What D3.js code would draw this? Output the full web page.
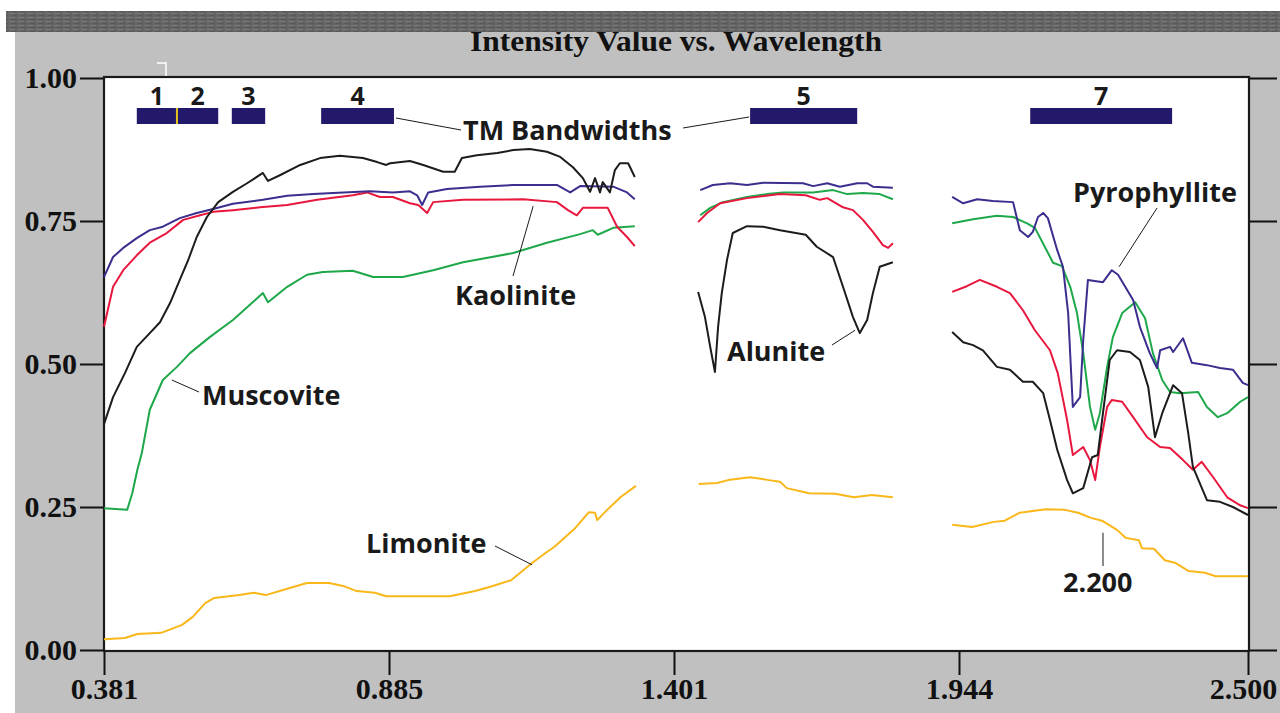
<!DOCTYPE html>
<html><head><meta charset="utf-8">
<script src="https://cdn.jsdelivr.net/npm/d3@7"></script>
<style>body{margin:0;background:#fff}svg{display:block}</style>
</head><body><svg id="c" width="1280" height="713"></svg>
<script>
// ---------- data ----------
const chartTitle = "Intensity Value vs. Wavelength";
const wavelengthTicks = [0.381, 0.885, 1.401, 1.944, 2.500];
const valueTicks = [0, 0.25, 0.50, 0.75, 1.00];

const tmBands = ["1", "2", "3", "4", "5", "7"];
const tmStart = [0.439, 0.510, 0.607, 0.765, 1.546, 2.081];
const tmEnd   = [0.510, 0.583, 0.666, 0.894, 1.750, 2.354];

const minerals = ["Kaolinite", "Alunite", "Muscovite", "Pyrophyllite", "Limonite"];

// each spectrum: three segments of [wavelength µm, intensity]
const kaolinite = [
  [[0.381,0.565],[0.397,0.635],[0.415,0.664],[0.439,0.690],[0.462,0.712],[0.492,0.729],[0.521,0.752],[0.551,0.760],[0.574,0.766],[0.609,0.769],[0.657,0.774],[0.705,0.778],[0.758,0.787],[0.821,0.795],[0.846,0.800],[0.869,0.792],[0.892,0.792],[0.923,0.781],[0.938,0.778],[0.954,0.764],[0.965,0.783],[1.019,0.787],[1.128,0.788],[1.189,0.783],[1.209,0.769],[1.225,0.760],[1.236,0.773],[1.281,0.773],[1.298,0.740],[1.316,0.722],[1.330,0.706]],
  [[1.447,0.748],[1.464,0.764],[1.489,0.781],[1.540,0.790],[1.603,0.797],[1.652,0.795],[1.679,0.787],[1.693,0.790],[1.723,0.774],[1.742,0.769],[1.761,0.752],[1.780,0.731],[1.799,0.708],[1.809,0.703],[1.818,0.711]],
  [[1.931,0.626],[1.959,0.636],[1.984,0.647],[2.017,0.635],[2.042,0.624],[2.067,0.594],[2.090,0.559],[2.119,0.524],[2.134,0.484],[2.152,0.402],[2.163,0.341],[2.183,0.355],[2.196,0.332],[2.206,0.297],[2.215,0.355],[2.229,0.425],[2.238,0.437],[2.258,0.434],[2.279,0.407],[2.306,0.372],[2.331,0.355],[2.350,0.353],[2.375,0.332],[2.394,0.315],[2.411,0.329],[2.433,0.302],[2.460,0.267],[2.485,0.253],[2.500,0.248]]
];
const alunite = [
  [[0.381,0.395],[0.397,0.442],[0.418,0.484],[0.439,0.530],[0.462,0.554],[0.480,0.573],[0.498,0.607],[0.515,0.647],[0.530,0.682],[0.545,0.722],[0.563,0.757],[0.583,0.783],[0.609,0.801],[0.634,0.816],[0.662,0.834],[0.671,0.820],[0.692,0.830],[0.728,0.848],[0.763,0.860],[0.798,0.864],[0.839,0.860],[0.864,0.853],[0.880,0.848],[0.887,0.851],[0.923,0.855],[0.947,0.848],[0.983,0.836],[1.004,0.836],[1.017,0.860],[1.044,0.865],[1.081,0.869],[1.110,0.874],[1.140,0.876],[1.171,0.871],[1.195,0.862],[1.218,0.844],[1.236,0.825],[1.249,0.801],[1.258,0.825],[1.267,0.800],[1.272,0.818],[1.285,0.800],[1.294,0.839],[1.303,0.851],[1.318,0.851],[1.330,0.827]],
  [[1.447,0.626],[1.460,0.582],[1.470,0.530],[1.479,0.486],[1.485,0.565],[1.492,0.624],[1.502,0.682],[1.513,0.729],[1.540,0.741],[1.571,0.740],[1.603,0.734],[1.652,0.726],[1.673,0.705],[1.704,0.687],[1.723,0.635],[1.742,0.582],[1.755,0.554],[1.769,0.577],[1.780,0.624],[1.793,0.670],[1.818,0.678]],
  [[1.931,0.556],[1.952,0.538],[1.971,0.533],[1.990,0.524],[2.017,0.495],[2.042,0.490],[2.067,0.469],[2.086,0.469],[2.106,0.449],[2.119,0.402],[2.133,0.350],[2.152,0.297],[2.163,0.274],[2.183,0.283],[2.200,0.337],[2.211,0.341],[2.221,0.414],[2.234,0.507],[2.248,0.524],[2.273,0.521],[2.292,0.507],[2.308,0.460],[2.321,0.372],[2.335,0.414],[2.356,0.463],[2.373,0.449],[2.385,0.379],[2.394,0.320],[2.421,0.262],[2.446,0.259],[2.471,0.250],[2.500,0.236]]
];
const muscovite = [
  [[0.381,0.248],[0.422,0.245],[0.431,0.274],[0.440,0.315],[0.448,0.345],[0.453,0.372],[0.462,0.420],[0.485,0.472],[0.510,0.495],[0.533,0.519],[0.568,0.547],[0.609,0.577],[0.644,0.608],[0.662,0.624],[0.671,0.608],[0.705,0.635],[0.740,0.656],[0.768,0.661],[0.821,0.663],[0.857,0.652],[0.899,0.652],[0.910,0.652],[0.965,0.664],[1.019,0.678],[1.110,0.694],[1.171,0.712],[1.231,0.727],[1.254,0.734],[1.263,0.726],[1.291,0.738],[1.330,0.741]],
  [[1.451,0.760],[1.470,0.773],[1.494,0.783],[1.540,0.792],[1.578,0.797],[1.609,0.800],[1.666,0.800],[1.704,0.804],[1.731,0.797],[1.761,0.799],[1.793,0.797],[1.818,0.788]],
  [[1.931,0.746],[1.971,0.753],[2.017,0.759],[2.048,0.757],[2.075,0.746],[2.090,0.738],[2.109,0.705],[2.125,0.677],[2.142,0.671],[2.158,0.635],[2.171,0.589],[2.183,0.519],[2.196,0.425],[2.206,0.385],[2.215,0.414],[2.229,0.495],[2.240,0.547],[2.258,0.589],[2.283,0.608],[2.302,0.580],[2.317,0.519],[2.335,0.472],[2.350,0.451],[2.369,0.449],[2.404,0.451],[2.421,0.425],[2.442,0.407],[2.460,0.414],[2.485,0.434],[2.500,0.442]]
];
const pyrophyllite = [
  [[0.381,0.652],[0.397,0.687],[0.415,0.703],[0.439,0.720],[0.462,0.734],[0.485,0.740],[0.515,0.755],[0.545,0.764],[0.574,0.771],[0.609,0.780],[0.662,0.787],[0.705,0.794],[0.751,0.797],[0.786,0.799],[0.851,0.802],[0.892,0.800],[0.923,0.802],[0.936,0.795],[0.945,0.778],[0.956,0.800],[0.990,0.806],[1.050,0.810],[1.110,0.813],[1.189,0.813],[1.213,0.800],[1.231,0.811],[1.291,0.810],[1.316,0.800],[1.330,0.788]],
  [[1.451,0.804],[1.475,0.813],[1.508,0.816],[1.540,0.813],[1.571,0.817],[1.647,0.816],[1.666,0.811],[1.693,0.816],[1.717,0.810],[1.750,0.816],[1.769,0.816],[1.780,0.810],[1.818,0.808]],
  [[1.931,0.792],[1.952,0.781],[1.979,0.788],[2.009,0.785],[2.048,0.783],[2.061,0.734],[2.077,0.722],[2.086,0.731],[2.096,0.757],[2.106,0.764],[2.115,0.755],[2.133,0.699],[2.144,0.670],[2.154,0.589],[2.163,0.425],[2.177,0.442],[2.183,0.542],[2.192,0.647],[2.221,0.643],[2.238,0.664],[2.250,0.656],[2.279,0.612],[2.292,0.565],[2.311,0.519],[2.325,0.493],[2.331,0.524],[2.350,0.530],[2.356,0.521],[2.375,0.545],[2.392,0.502],[2.421,0.498],[2.446,0.493],[2.471,0.490],[2.490,0.467],[2.500,0.463]]
];
const limonite = [
  [[0.381,0.019],[0.418,0.021],[0.440,0.028],[0.482,0.030],[0.519,0.044],[0.538,0.058],[0.560,0.082],[0.576,0.091],[0.620,0.096],[0.646,0.100],[0.667,0.096],[0.708,0.108],[0.740,0.117],[0.779,0.117],[0.804,0.112],[0.828,0.103],[0.860,0.100],[0.880,0.094],[0.905,0.094],[0.995,0.094],[1.041,0.103],[1.073,0.112],[1.106,0.122],[1.144,0.152],[1.169,0.170],[1.184,0.180],[1.222,0.213],[1.247,0.241],[1.258,0.240],[1.262,0.227],[1.280,0.245],[1.305,0.268],[1.332,0.287]],
  [[1.448,0.290],[1.483,0.292],[1.504,0.297],[1.546,0.302],[1.582,0.297],[1.603,0.294],[1.616,0.283],[1.658,0.274],[1.708,0.273],[1.744,0.267],[1.778,0.271],[1.818,0.267]],
  [[1.931,0.219],[1.969,0.215],[2.011,0.224],[2.032,0.226],[2.061,0.240],[2.111,0.246],[2.148,0.245],[2.173,0.240],[2.198,0.231],[2.219,0.226],[2.248,0.210],[2.265,0.196],[2.290,0.192],[2.296,0.178],[2.319,0.177],[2.340,0.157],[2.361,0.152],[2.386,0.138],[2.417,0.135],[2.438,0.129],[2.500,0.129]]
];

// ---------- layout ----------
const W = 1280, H = 713;
const L = 104, R = 1249, T = 77, B = 651;
const colors = {Kaolinite:"#e8173d", Alunite:"#1c1c1c", Muscovite:"#1ea84a", Pyrophyllite:"#3a2f8e", Limonite:"#f9b71a"};
const spectra = {Kaolinite:kaolinite, Alunite:alunite, Muscovite:muscovite, Pyrophyllite:pyrophyllite, Limonite:limonite};

const svg = d3.select("#c");
const x = d3.scaleLinear().domain(wavelengthTicks).range([104, 389, 674, 959, 1248]);
const y = d3.scaleLinear().domain([0, 1]).range([650, 78]);

// background
svg.append("rect").attr("x",15).attr("y",30).attr("width",W-15).attr("height",H-30).attr("fill","#c0c0c0");
svg.append("rect").attr("x",L).attr("y",T).attr("width",R-L).attr("height",B-T).attr("fill","#fff");

// title (drawn before the top band so its top is clipped like the source)
svg.append("text").attr("x",676).attr("y",51).attr("text-anchor","middle")
  .attr("textLength",412).attr("lengthAdjust","spacingAndGlyphs")
  .style("font-family","'Liberation Serif', serif").style("font-weight","bold").style("font-size","30px").attr("fill","#111")
  .text(chartTitle);

// dark textured band at the top
const defs = svg.append("defs");
const pat = defs.append("pattern").attr("id","tex").attr("width",9).attr("height",4).attr("patternUnits","userSpaceOnUse");
pat.append("rect").attr("width",9).attr("height",4).attr("fill","#646464");
pat.append("rect").attr("y",1).attr("width",6).attr("height",1).attr("fill","#7a7a7a");
pat.append("rect").attr("x",3).attr("y",3).attr("width",5).attr("height",1).attr("fill","#585858");
svg.append("rect").attr("x",6).attr("y",11).attr("width",W-6).attr("height",21).attr("fill","url(#tex)");

// axes
const tickFont = sel => sel.selectAll("text").style("font-family","'Liberation Serif', serif")
  .style("font-weight","bold").style("font-size","30px").attr("fill","#111");
const gy = svg.append("g").attr("transform",`translate(${L},0)`)
  .call(d3.axisLeft(y).tickValues(valueTicks).tickFormat(d3.format(".2f")).tickSize(24).tickPadding(3));
gy.select(".domain").remove(); gy.selectAll("line").attr("stroke","#111").attr("stroke-width",2); tickFont(gy);
const gyr = svg.append("g").attr("transform",`translate(${R},0)`)
  .call(d3.axisRight(y).tickValues(valueTicks).tickFormat("").tickSize(28));
gyr.select(".domain").remove(); gyr.selectAll("line").attr("stroke","#111").attr("stroke-width",2);
const gx = svg.append("g").attr("transform",`translate(0,${B})`)
  .call(d3.axisBottom(x).tickValues(wavelengthTicks).tickFormat(d3.format(".3f")).tickSize(24).tickPadding(3));
gx.select(".domain").remove(); gx.selectAll("line").attr("stroke","#111").attr("stroke-width",2); tickFont(gx);
// keep the last label inside the picture
gx.selectAll(".tick").filter(d => d === wavelengthTicks[wavelengthTicks.length-1]).select("text").attr("x",-5);

// frame
svg.append("rect").attr("x",L).attr("y",T).attr("width",R-L).attr("height",B-T)
  .attr("fill","none").attr("stroke","#1a1a1a").attr("stroke-width",2.2);
// small white mark above frame
svg.append("path").attr("d","M157,63H166V76").attr("fill","none").attr("stroke","#fff").attr("stroke-width",1.5);

// TM band bars
const bandTop = 108, bandH = 16;
svg.append("g").selectAll("rect").data(tmBands).join("rect")
  .attr("x",(d,i)=>x(tmStart[i])).attr("width",(d,i)=>x(tmEnd[i])-x(tmStart[i]))
  .attr("y",bandTop).attr("height",bandH).attr("fill","#23196b");
svg.append("line").attr("x1",x(tmEnd[0])).attr("x2",x(tmEnd[0])).attr("y1",bandTop).attr("y2",bandTop+bandH)
  .attr("stroke","#e8c21a").attr("stroke-width",2);
const labelFont = "'Open Sans', 'Noto Sans', sans-serif";
svg.append("g").selectAll("text").data(tmBands).join("text")
  .attr("x",(d,i)=>(x(tmStart[i])+x(tmEnd[i]))/2).attr("y",105).attr("text-anchor","middle")
  .style("font-family",labelFont).style("font-weight","700").style("font-size","25px").attr("fill","#1a1a1a")
  .text(d=>d);

// spectra
const line = d3.line().x(d=>x(d[0])).y(d=>y(d[1]));
const order = ["Limonite","Muscovite","Kaolinite","Pyrophyllite","Alunite"];
order.forEach(m => {
  svg.append("g").selectAll("path").data(spectra[m]).join("path")
    .attr("d",line).attr("fill","none").attr("stroke",colors[m]).attr("stroke-width",2).attr("stroke-linejoin","round");
});

// annotations
const ann = [
  {text:"TM Bandwidths", tx:463, ty:140},
  {text:"Kaolinite", tx:455, ty:305, from:[513,276], at:[1.146,0.776]},
  {text:"Muscovite", tx:202, ty:405, from:[199,392], at:[0.501,0.472]},
  {text:"Alunite", tx:727, ty:361, from:[832,345], at:[1.746,0.559]},
  {text:"Pyrophyllite", tx:1073, ty:202, from:[1157,208], at:[2.252,0.670]},
  {text:"Limonite", tx:366, ty:553, from:[495,546], at:[1.144,0.149]},
  {text:"2.200", tx:1063, ty:592, from:[1103,566], at:[2.221,0.205]}
];
const ag = svg.append("g");
ann.forEach(a => {
  ag.append("text").attr("x",a.tx).attr("y",a.ty)
    .style("font-family",labelFont).style("font-weight","700").style("font-size","27px").attr("fill","#1a1a1a").text(a.text);
  if (a.from) ag.append("line").attr("x1",a.from[0]).attr("y1",a.from[1]).attr("x2",x(a.at[0])).attr("y2",y(a.at[1]))
    .attr("stroke","#1a1a1a").attr("stroke-width",1);
});
// TM leaders to band 4 and band 5
ag.append("line").attr("x1",x(tmEnd[3])+2).attr("y1",bandTop+10).attr("x2",461).attr("y2",130).attr("stroke","#1a1a1a");
ag.append("line").attr("x1",683).attr("y1",128).attr("x2",x(tmStart[4])-1).attr("y2",bandTop+9).attr("stroke","#1a1a1a");
</script></body></html>
